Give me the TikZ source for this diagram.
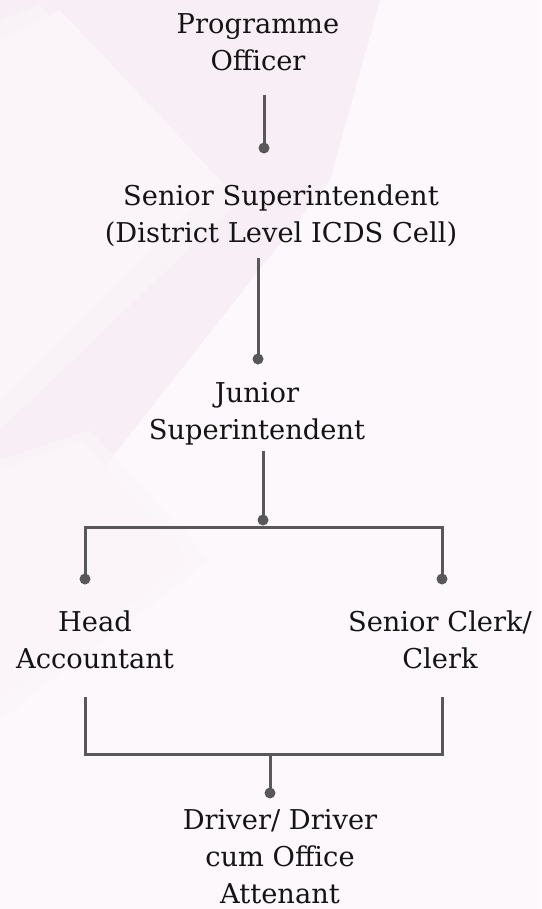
\documentclass[tikz,border=0pt]{standalone}
\usepackage{fontspec}
\setmainfont{DejaVu Serif}
\definecolor{paper}{HTML}{FCF8FB}
\definecolor{blush}{HTML}{F8EFF6}
\definecolor{mist}{HTML}{FBF5F9}
\definecolor{linegray}{HTML}{58585A}
\definecolor{ink}{HTML}{141414}
\begin{document}
\begin{tikzpicture}[x=1pt,y=-1pt,
  role/.style={align=center, inner sep=0pt, anchor=base, text=ink,
    font=\fontsize{27.3}{37}\selectfont},
  conn/.style={draw=linegray, line width=3pt, line join=miter},
  joint/.style={fill=linegray}]
% page and soft background bands
\fill[paper] (0,0) rectangle (541,909);
\useasboundingbox (0,0) rectangle (541,909);
\fill[blush] (0,0) -- (380,0) -- (330,180) -- (0,600) -- cycle;
\fill[mist, opacity=0.6] (0,20) -- (40,5) -- (240,200) -- (0,430) -- cycle;
\fill[mist] (0,40) -- (60,10) -- (220,180) -- (0,400) -- cycle;
\fill[mist, opacity=0.6] (0,460) -- (90,430) -- (210,560) -- (0,720) -- cycle;
\fill[mist] (0,470) -- (80,440) -- (190,560) -- (0,700) -- cycle;

% roles (anchored at the baseline of the last line)
\node[role] (po) at (258,71) {Programme\\Officer};
\node[role] (ss) at (281,243) {Senior Superintendent\\(District Level ICDS Cell)};
\node[role] (js) at (257,439) {Junior\\Superintendent};
\node[role] (ha) at (95,668) {Head\\Accountant};
\node[role] (sc) at (440,668) {Senior Clerk/\\Clerk};
\node[role] (dr) at (280,903) {Driver/ Driver\\cum Office\\Attenant};

% connector end points
\coordinate (po-out) at (264,95);
\coordinate (ss-in) at (264,148);
\coordinate (ss-out) at (258,258);
\coordinate (js-in) at (258,359);
\coordinate (js-out) at (263,451);
\coordinate (split) at (263,520);
\coordinate (bar-l) at (85,527);
\coordinate (bar-r) at (442,527);
\coordinate (ha-in) at (85,579);
\coordinate (sc-in) at (442,579);
\coordinate (ha-out) at (85,697);
\coordinate (sc-out) at (442,697);
\coordinate (merge) at (270,754);
\coordinate (dr-in) at (270,793);

% connectors
\draw[conn] (po-out) -- (ss-in);
\draw[conn] (ss-out) -- (js-in);
\draw[conn] (js-out) -- (split);
\draw[conn] (ha-in) -- (bar-l) -- (bar-r) -- (sc-in);
\draw[conn] (ha-out) |- (merge) -| (sc-out);
\draw[conn] (merge) -- (dr-in);

% joint dots
\foreach \p in {ss-in, js-in, split, ha-in, sc-in, dr-in}
  \fill[joint] (\p) circle (5.5);
\end{tikzpicture}
\end{document}
